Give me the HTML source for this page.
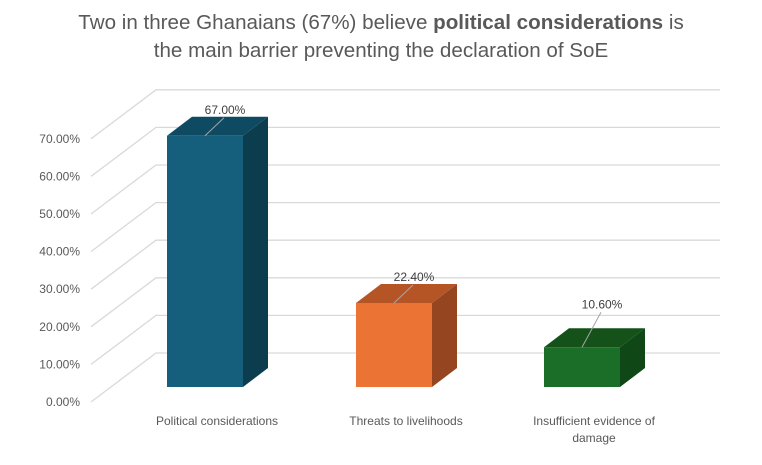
<!DOCTYPE html>
<html><head><meta charset="utf-8"><style>
body{margin:0;background:#fff;width:762px;height:460px;overflow:hidden;font-family:"Liberation Sans",sans-serif}
</style></head><body>
<svg width="762" height="460" xmlns="http://www.w3.org/2000/svg" font-family="Liberation Sans, sans-serif">
<text x="381" y="29" text-anchor="middle" font-size="20.6" fill="#595959">Two in three Ghanaians (67%) believe <tspan font-weight="bold">political considerations</tspan> is</text>
<text x="381" y="57" text-anchor="middle" font-size="20.6" fill="#595959">the main barrier preventing the declaration of SoE</text>
<g id="grid"></g><g id="ylab"></g><g id="bars"></g><g id="xlab"></g>
</svg>
<script>
const categories=["Political considerations","Threats to livelihoods","Insufficient evidence of damage"];
const values=[67.0,22.4,10.6];
const valueLabels=["67.00%","22.40%","10.60%"];
const yTicks=[0,10,20,30,40,50,60,70];
const tickLabels=["0.00%","10.00%","20.00%","30.00%","40.00%","50.00%","60.00%","70.00%"];
const colors=[["#155f7d","#0f4a63","#0b3d4f"],["#eb7333","#b55526","#954520"],["#1b6e27","#145219","#0f4716"]];
const NS="http://www.w3.org/2000/svg";
function mk(t,a,p){const e=document.createElementNS(NS,t);for(const k in a)e.setAttribute(k,a[k]);p.appendChild(e);return e;}
const frontY=v=>402-v*3.76, backY=v=>frontY(v)-49;
const barY=v=>387-v*3.75;
const g=document.getElementById('grid');
yTicks.forEach(t=>{
 const l=mk('polyline',{points:`91,${frontY(t)} 156,${backY(t)} 720,${backY(t)}`,fill:'none',stroke:'#d9d9d9','stroke-width':1.3},g);
 
 
});
const yl=document.getElementById('ylab');
tickLabels.forEach((s,i)=>{
 const t=mk('text',{x:80,y:frontY(yTicks[i])+4,'text-anchor':'end','font-size':12,fill:'#595959'},yl);t.textContent=s;
 
 
});
const bg=document.getElementById('bars'),xl=document.getElementById('xlab');
const xs=[167,356,544],w=76,dx=25,dy=19,base=387;
values.forEach((v,i)=>{
 const x=xs[i],top=barY(v),c=colors[i];
 const grp=mk('g',{},bg);
 
 
 mk('polygon',{points:`${x+w},${top} ${x+w+dx},${top-dy} ${x+w+dx},${base-dy} ${x+w},${base}`,fill:c[2]},grp);
 mk('polygon',{points:`${x},${top} ${x+dx},${top-dy} ${x+w+dx},${top-dy} ${x+w},${top}`,fill:c[1]},grp);
 mk('rect',{x:x,y:top,width:w,height:base-top,fill:c[0]},grp);
 const cx=x+w/2;
 mk('line',{x1:cx,y1:top,x2:cx+19,y2:top-(i==2?35:18),stroke:'#a6a6a6','stroke-width':1},grp);
 const lt=mk('text',{x:cx+20,y:top-(i==2?39:22),'text-anchor':'middle','font-size':12,fill:'#404040'},grp);lt.textContent=valueLabels[i];
 
 
 const words=categories[i]==="Insufficient evidence of damage"?["Insufficient evidence of","damage"]:[categories[i]];
 words.forEach((s,j)=>{
  const t=mk('text',{x:cx+12,y:425+j*17,'text-anchor':'middle','font-size':12,fill:'#595959'},xl);t.textContent=s;
  
  
 });
});
</script>
</body></html>
